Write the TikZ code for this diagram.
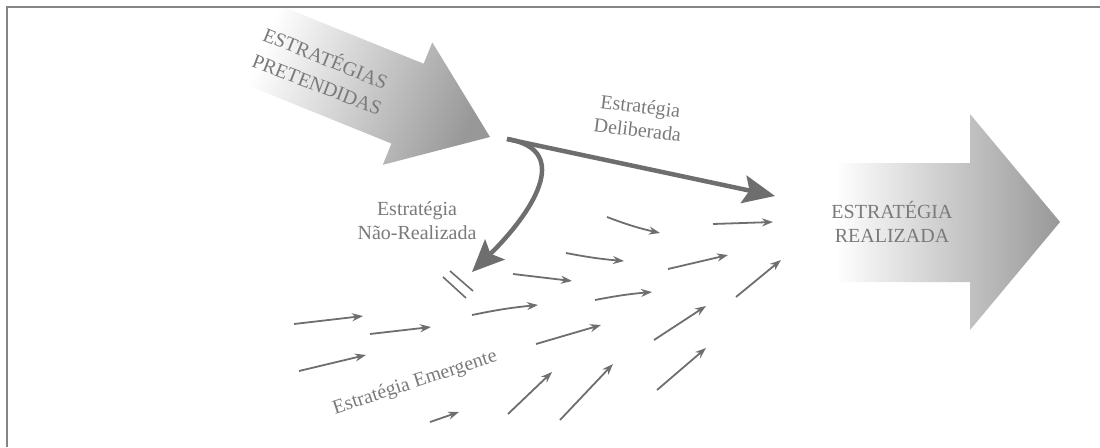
\documentclass[tikz,border=0pt]{standalone}
\usepackage{fontspec}
\setmainfont{Liberation Serif}
\usetikzlibrary{arrows.meta}
\definecolor{linegray}{HTML}{6E6E6E}
\definecolor{textgray}{HTML}{7A7A7A}
\definecolor{framegray}{HTML}{858585}
\definecolor{shadegray}{HTML}{989898}
\begin{document}
\begin{tikzpicture}[x=1pt,y=-1pt,
  lbl/.style={text=textgray, font=\fontsize{20}{24}\selectfont, inner sep=0pt, align=center},
  bigarrow/.style={draw=linegray, line width=4.5pt, -{Stealth[length=32pt,width=28pt,inset=6pt]}},
  smallarrow/.style={draw=linegray, line width=1.8pt, -{Stealth[length=11pt,width=8pt]}},
  breakmark/.style={draw=linegray, line width=1.6pt},
  framestyle/.style={draw=framegray, line width=2pt}]
\useasboundingbox (0,0) rectangle (1100,447);

% intended strategies arrow
\shade[left color=white, right color=shadegray, shading angle=68]
  (275.3,3.7) -- (423.6,63.7) -- (432.3,42.4) -- (490,137) -- (382.8,164.8) -- (391.4,143.5) -- (243.1,83.5) -- cycle;
\node[lbl, rotate=-22] (pret1) at (326,57) {ESTRATÉGIAS};
\node[lbl, rotate=-21] (pret2) at (317,85) {PRETENDIDAS};

% realized strategy arrow
\shade[left color=white, right color=shadegray]
  (835,163) -- (970,163) -- (970,114) -- (1060,222) -- (970,330) -- (970,282) -- (835,282) -- cycle;
\node[lbl] (real) at (892,222) {ESTRATÉGIA\\REALIZADA};

% frame
\coordinate (fbl) at (7,447);
\coordinate (ftl) at (7,7);
\coordinate (ftr) at (1100,7);
\draw[framestyle] (fbl) -- (ftl) -- (ftr);

% deliberate / unrealized
\coordinate (fork) at (507,139);
\coordinate (delend) at (775,196);
\coordinate (nrend) at (472,272);
\draw[bigarrow] (fork) -- (delend);
\draw[bigarrow] (fork) .. controls (575,150) and (530,215) .. (nrend);
\node[lbl, rotate=-7] (delib) at (639,118) {Estratégia\\Deliberada};
\node[lbl] (naoreal) at (417,221) {Estratégia\\Não-Realizada};

% break mark
\coordinate (ma1) at (443,277);
\coordinate (mb1) at (466,298);
\coordinate (ma2) at (450,271);
\coordinate (mb2) at (473,291);
\draw[breakmark] (ma1) -- (mb1);
\draw[breakmark] (ma2) -- (mb2);

% emergent arrows
\foreach \i/\sx/\sy/\ex/\ey/\b in {
  1/294/324/363/316/0,
  2/370/334/431/327/0,
  3/299/371/366/355/0,
  4/430/422/459/412/0,
  5/508/414/552/372/0,
  6/560/420/613/364/0,
  7/472/315/538/305/3,
  8/513/274/572/281/0,
  9/566/253/624/261/-3,
  10/607/217/660/233/-4,
  11/595/300/652/292/3,
  12/536/344/601/325/0,
  13/654/340/706/306/0,
  14/657/390/706/348/0,
  15/668/269/728/255/0,
  16/713/224/773/222/0,
  17/736/297/781/260/0}{
  \coordinate (s\i) at (\sx,\sy);
  \coordinate (e\i) at (\ex,\ey);
  \draw[smallarrow] (s\i) to[bend left=\b] (e\i);
}
\node[lbl, rotate=18] (emerg) at (415,383) {Estratégia Emergente};
\end{tikzpicture}
\end{document}
